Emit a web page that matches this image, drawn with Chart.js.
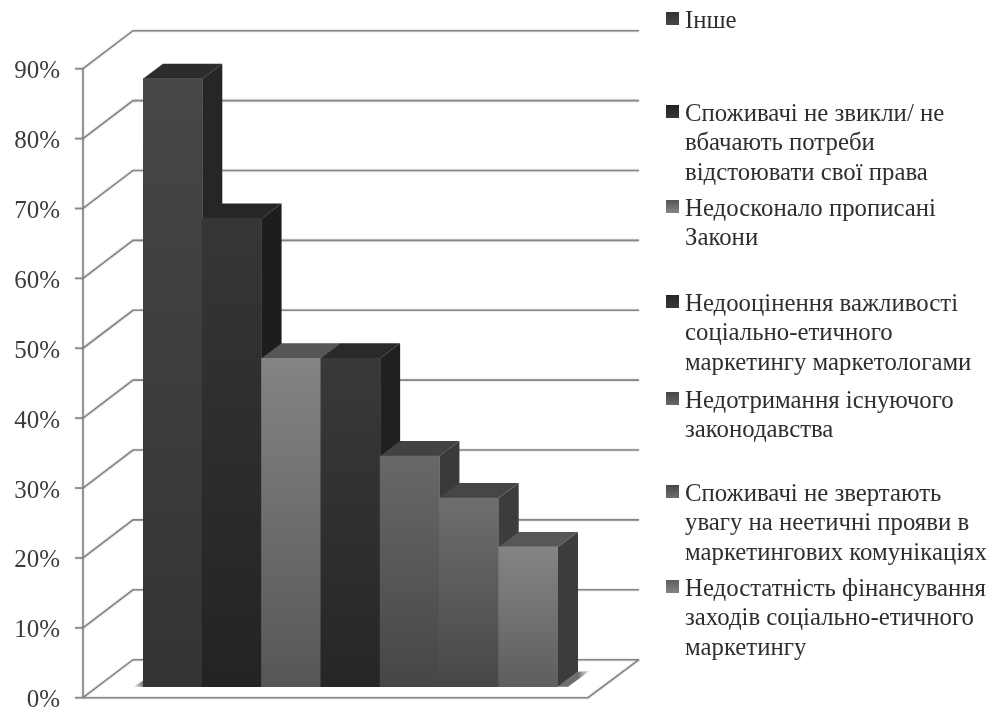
<!DOCTYPE html>
<html lang="uk">
<head>
<meta charset="utf-8">
<title>Бар'єри соціально-етичного маркетингу</title>
<script src="https://cdn.jsdelivr.net/npm/chart.js@4/dist/chart.umd.min.js"></script>
<style>
  html, body { margin: 0; padding: 0; background: #fff; }
  canvas { display: block; }
</style>
</head>
<body>
<canvas id="chart" width="993" height="710"></canvas>
<script>
// legend wording, one inner array per wrapped legend entry
const legendLines = [
  ['Інше'],
  ['Споживачі не звикли/ не', 'вбачають потреби', 'відстоювати свої права'],
  ['Недосконало прописані', 'Закони'],
  ['Недооцінення важливості', 'соціально-етичного', 'маркетингу маркетологами'],
  ['Недотримання існуючого', 'законодавства'],
  ['Споживачі не звертають', 'увагу на неетичні прояви в', 'маркетингових комунікаціях'],
  ['Недостатність фінансування', 'заходів соціально-етичного', 'маркетингу']
];
const categories = legendLines.map(lines => lines.join(' '));
const shares = [87, 67, 47, 47, 33, 27, 20];

// [top, bottom] of the front face gradient, then top face, then side face
const frontColors = [['#474747', '#333333'], ['#363636', '#232323'], ['#848484', '#565656'], ['#393939', '#262626'],
                     ['#686868', '#464646'], ['#6e6e6e', '#474747'], ['#848484', '#5e5e5e']];
const topColors = ['#2c2c2c', '#262626', '#565656', '#2a2a2a', '#424242', '#464646', '#575757'];
const sideColors = ['#262626', '#1d1d1d', '#1d1d1d', '#202020', '#3a3a3a', '#3c3c3c', '#3c3c3c'];

// first text line of each legend entry, centre y
const legendRowY = [21, 114, 209, 304, 401, 494, 589];
const LEGEND_LINE = 29.6;
const LEGEND_SWATCH_X = 666;
const LEGEND_TEXT_X = 685;

const AXIS_X = 83;
const FLOOR_RIGHT = 588;
const WALL_RIGHT = 639;
const WALL_DX = 50, WALL_DY = 38;   // slant of side wall and floor
const BAR_DX = 20, BAR_DY = 15;     // depth of each column
const LINE_COLOR = '#858585';

function frontGradient(context) {
  const { chart, dataIndex } = context;
  const { ctx, chartArea, scales } = chart;
  if (!chartArea) return frontColors[dataIndex][0];
  const g = ctx.createLinearGradient(0, scales.yBars.getPixelForValue(shares[dataIndex]), 0, scales.yBars.getPixelForValue(0));
  g.addColorStop(0, frontColors[dataIndex][0]);
  g.addColorStop(1, frontColors[dataIndex][1]);
  return g;
}

function segment(ctx, x1, y1, x2, y2) {
  ctx.beginPath();
  ctx.moveTo(x1, y1);
  ctx.lineTo(x2, y2);
  ctx.stroke();
}

function polygon(ctx, points, fill) {
  ctx.beginPath();
  points.forEach(([x, y], i) => (i ? ctx.lineTo(x, y) : ctx.moveTo(x, y)));
  ctx.closePath();
  ctx.fillStyle = fill;
  ctx.fill();
}

// Walls, floor and the side and top faces of the columns; the fronts come from the bar elements
const scenePlugin = {
  id: 'scene3d',
  beforeDatasetsDraw(chart) {
    const { ctx, scales } = chart;
    const axis = scales.y;
    const zero = axis.getPixelForValue(0);
    ctx.save();
    ctx.lineWidth = 1.6;
    ctx.strokeStyle = LINE_COLOR;
    ctx.shadowColor = 'rgba(0,0,0,0.25)';
    ctx.shadowBlur = 2;

    for (const tick of axis.ticks) {
      const y = axis.getPixelForValue(tick.value);
      segment(ctx, AXIS_X - 8, y, AXIS_X, y);
      ctx.beginPath();
      ctx.moveTo(AXIS_X, y);
      ctx.lineTo(AXIS_X + WALL_DX, y - WALL_DY);
      ctx.lineTo(WALL_RIGHT, y - WALL_DY);
      ctx.stroke();
    }
    segment(ctx, AXIS_X, axis.getPixelForValue(axis.max), AXIS_X, zero);
    ctx.beginPath();
    ctx.moveTo(AXIS_X, zero);
    ctx.lineTo(FLOOR_RIGHT, zero);
    ctx.lineTo(WALL_RIGHT, zero - WALL_DY);
    ctx.stroke();
    ctx.shadowBlur = 0;

    const bars = chart.getDatasetMeta(0).data;
    const base = bars[0].base;
    const lastEdge = bars[bars.length - 1].x + bars[bars.length - 1].width / 2;

    // soft shadows the columns throw on the floor
    const right = ctx.createLinearGradient(lastEdge + BAR_DX, 0, lastEdge + BAR_DX + 12, 0);
    right.addColorStop(0, 'rgba(60,60,60,0.75)');
    right.addColorStop(1, 'rgba(60,60,60,0)');
    polygon(ctx, [[lastEdge, base], [lastEdge + BAR_DX, base - BAR_DY], [lastEdge + BAR_DX + 12, base - BAR_DY - 1], [lastEdge + 10, base]], right);
    const firstEdge = bars[0].x - bars[0].width / 2;
    const left = ctx.createLinearGradient(firstEdge - 10, 0, firstEdge, 0);
    left.addColorStop(0, 'rgba(60,60,60,0)');
    left.addColorStop(1, 'rgba(60,60,60,0.7)');
    polygon(ctx, [[firstEdge - 10, base], [firstEdge, base - 6], [firstEdge, base]], left);

    bars.forEach((bar, i) => {
      const x0 = bar.x - bar.width / 2;
      const x1 = bar.x + bar.width / 2;
      polygon(ctx, [[x0, bar.y], [x0 + BAR_DX, bar.y - BAR_DY], [x1 + BAR_DX, bar.y - BAR_DY], [x1, bar.y]], topColors[i]);
      polygon(ctx, [[x1, bar.y], [x1 + BAR_DX, bar.y - BAR_DY], [x1 + BAR_DX, base - BAR_DY], [x1, base]], sideColors[i]);
    });
    ctx.restore();
  },
  afterDraw(chart) {
    const { ctx } = chart;
    ctx.save();
    ctx.font = '24.8px "Liberation Serif"';
    ctx.textBaseline = 'middle';
    legendLines.forEach((lines, i) => {
      const y = legendRowY[i];
      // swatch sits a little above the middle of the first text line
      const g = ctx.createLinearGradient(0, y - 9, 0, y + 4);
      g.addColorStop(0, frontColors[i][1]);
      g.addColorStop(1, frontColors[i][0]);
      ctx.fillStyle = g;
      ctx.fillRect(LEGEND_SWATCH_X, y - 9, 13, 13);
      ctx.fillStyle = '#2e2e2e';
      lines.forEach((line, k) => ctx.fillText(line, LEGEND_TEXT_X, y + k * LEGEND_LINE));
    });
    ctx.restore();
  }
};

new Chart(document.getElementById('chart'), {
  type: 'bar',
  data: {
    labels: categories,
    datasets: [{
      data: shares,
      yAxisID: 'yBars',
      backgroundColor: frontGradient,
      borderWidth: 0,
      barPercentage: 1,
      categoryPercentage: 1
    }]
  },
  plugins: [scenePlugin],
  options: {
    responsive: false,
    animation: false,
    // columns stand in a plane in front of the axis, so the chart area is just their span
    layout: { padding: { top: 68.7, bottom: 12.3, right: 435, left: 0 } },
    plugins: { legend: { display: false }, tooltip: { enabled: false } },
    scales: {
      x: { display: false },
      y: {
        position: 'left',
        min: 0,
        max: 90,
        afterFit: scale => {
          // the wide tick padding only pushes labels sideways, it must not shrink the height
          scale.width = 143;
          scale.paddingTop = 0;
          scale.paddingBottom = 0;
        },
        border: { display: false },
        grid: { display: false, drawTicks: false },
        ticks: {
          stepSize: 10,
          padding: 83,
          labelOffset: 3,
          color: '#3c3c3c',
          font: { family: '"Liberation Serif"', size: 25 },
          callback: v => v + '%'
        }
      },
      // same height as y, shifted down by the gap between axis plane and column plane
      yBars: { display: false, min: -1.574, max: 88.426 }
    }
  }
});
</script>
</body>
</html>
